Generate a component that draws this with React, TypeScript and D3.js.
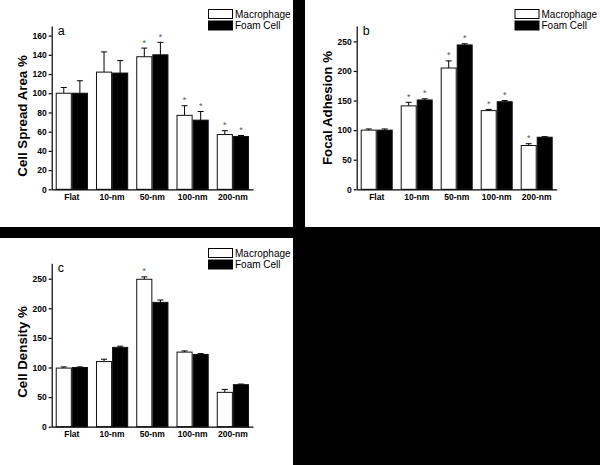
import React, { useRef, useEffect } from 'react';
import * as d3 from 'd3';

const categories = ['Flat', '10-nm', '50-nm', '100-nm', '200-nm'];
const seriesNames = ['Macrophage', 'Foam Cell'];

// a: cell spread area
const spreadMac = [100, 122, 138, 77, 57];
const spreadMacErr = [6, 21, 9, 10, 4];
const spreadFoam = [100, 121, 140, 72, 55];
const spreadFoamErr = [13, 13, 13, 9, 1];
const spreadMacStar = [false, false, true, true, true];
const spreadFoamStar = [false, false, true, true, true];

// b: focal adhesion
const focalMac = [100, 141, 205, 133, 74];
const focalMacErr = [2, 6, 12, 2, 3];
const focalFoam = [100, 151, 244, 148, 88];
const focalFoamErr = [2, 2, 2, 2, 1];
const focalMacStar = [false, true, true, true, true];
const focalFoamStar = [false, true, true, true, false];

// c: cell density
const densityMac = [99, 110, 249, 126, 58];
const densityMacErr = [2, 4, 4, 2, 5];
const densityFoam = [100, 134, 210, 122, 71];
const densityFoamErr = [1, 2, 4, 1.5, 1];
const densityMacStar = [false, false, true, false, false];
const densityFoamStar = [false, false, false, false, false];

const FONT = '"Liberation Sans", Arial, Helvetica, sans-serif';
const fills = ['#ffffff', '#000000'];

const Panel = ({ label, title, titleY, x0, x1, y0, y1, yMax, step, mac, macErr, foam, foamErr, macStar, foamStar, legendX, legendY }) => {
  const yAxisRef = useRef(null);
  const xAxisRef = useRef(null);

  const x = d3.scaleBand().domain(categories).range([x0, x1]).paddingInner(0.2).paddingOuter(0.1);
  const xs = d3.scaleBand().domain(seriesNames).range([0, x.bandwidth()]);
  const y = d3.scaleLinear().domain([0, yMax]).range([y0, y1]);

  const rows = categories.map((c, i) => ({
    cat: c,
    vals: [
      { s: seriesNames[0], v: mac[i], e: macErr[i], star: macStar[i] },
      { s: seriesNames[1], v: foam[i], e: foamErr[i], star: foamStar[i] },
    ],
  }));

  useEffect(() => {
    const ya = d3.axisLeft(y).tickValues(d3.range(0, yMax, step)).tickSize(3).tickSizeOuter(0).tickPadding(2);
    const gy = d3.select(yAxisRef.current);
    gy.call(ya);
    gy.selectAll('text').attr('font-family', FONT).attr('font-weight', 'bold').attr('font-size', 8.5).attr('fill', '#000');
    gy.selectAll('line, path').attr('stroke', '#000').attr('stroke-width', 1.2);
    gy.attr('font-family', null).attr('font-size', null);

    const xa = d3.axisBottom(x).tickSize(0).tickSizeOuter(0).tickPadding(4.5);
    const gx = d3.select(xAxisRef.current);
    gx.call(xa);
    gx.selectAll('text').attr('font-family', FONT).attr('font-weight', 'bold').attr('font-size', 8.5).attr('fill', '#000');
    gx.select('path').attr('stroke', '#000').attr('stroke-width', 1.2);
    gx.attr('font-family', null).attr('font-size', null);
  }, []);

  const midX = x0 - 29;

  return (
    <g>
      {rows.map(r => (
        <g key={r.cat} transform={`translate(${x(r.cat)},0)`}>
          {r.vals.map((d, j) => {
            const bx = xs(d.s);
            const bw = xs.bandwidth();
            const cx = bx + bw / 2;
            const top = y(d.v + d.e);
            return (
              <g key={d.s}>
                <line x1={cx} x2={cx} y1={y(d.v)} y2={top} stroke="#000" strokeWidth={1} />
                <line x1={cx - 3} x2={cx + 3} y1={top} y2={top} stroke="#000" strokeWidth={1} />
                <rect x={bx + 0.5} y={y(d.v)} width={bw - 1} height={y(0) - y(d.v)} fill={fills[j]} stroke="#111" strokeWidth={1} />
                {d.star && (
                  <text x={cx} y={top - 2.5} textAnchor="middle" fontSize={9} fontFamily={FONT} fill="#555">*</text>
                )}
              </g>
            );
          })}
        </g>
      ))}
      <g ref={xAxisRef} transform={`translate(0,${y0})`} />
      <g ref={yAxisRef} transform={`translate(${x0},0)`} />
      <text x={x0 + 6} y={y1 + 9} fontSize={12.5} fontFamily={FONT} fill="#000">{label}</text>
      <text transform={`translate(${midX},${titleY}) rotate(-90)`} textAnchor="middle" dominantBaseline="central" fontSize={13.3} fontWeight="bold" fontFamily={FONT} fill="#000">{title}</text>
      {seriesNames.map((s, i) => (
        <g key={s} transform={`translate(${legendX},${legendY + i * 11.5})`}>
          <rect x={0.5} y={0.5} width={24} height={9} fill={fills[i]} stroke="#000" strokeWidth={1} />
          <text x={27} y={5} dominantBaseline="central" fontSize={10} fontFamily={FONT} fill="#000">{s}</text>
        </g>
      ))}
    </g>
  );
};

export default function App() {
  return (
    <svg width={600} height={465} style={{ position: 'fixed', left: 0, top: 0, display: 'block' }}>
      <rect x={0} y={0} width={600} height={465} fill="#000" />
      <rect x={0} y={0} width={293} height={227} fill="#fff" />
      <rect x={305} y={0} width={295} height={227} fill="#fff" />
      <rect x={0} y={238} width={293} height={227} fill="#fff" />
      <Panel label="a" title="Cell Spread Area %" titleY={116} x0={51.7} x1={253} y0={189.3} y1={26} yMax={170} step={20}
        mac={spreadMac} macErr={spreadMacErr} foam={spreadFoam} foamErr={spreadFoamErr}
        macStar={spreadMacStar} foamStar={spreadFoamStar} legendX={208} legendY={9} />
      <Panel label="b" title="Focal Adhesion %" titleY={108} x0={356.7} x1={556.7} y0={189.3} y1={26} yMax={276} step={50}
        mac={focalMac} macErr={focalMacErr} foam={focalFoam} foamErr={focalFoamErr}
        macStar={focalMacStar} foamStar={focalFoamStar} legendX={514.5} legendY={9} />
      <Panel label="c" title="Cell Density %" titleY={352} x0={51.7} x1={253} y0={426.7} y1={263.3} yMax={276} step={50}
        mac={densityMac} macErr={densityMacErr} foam={densityFoam} foamErr={densityFoamErr}
        macStar={densityMacStar} foamStar={densityFoamStar} legendX={208} legendY={248} />
    </svg>
  );
}
